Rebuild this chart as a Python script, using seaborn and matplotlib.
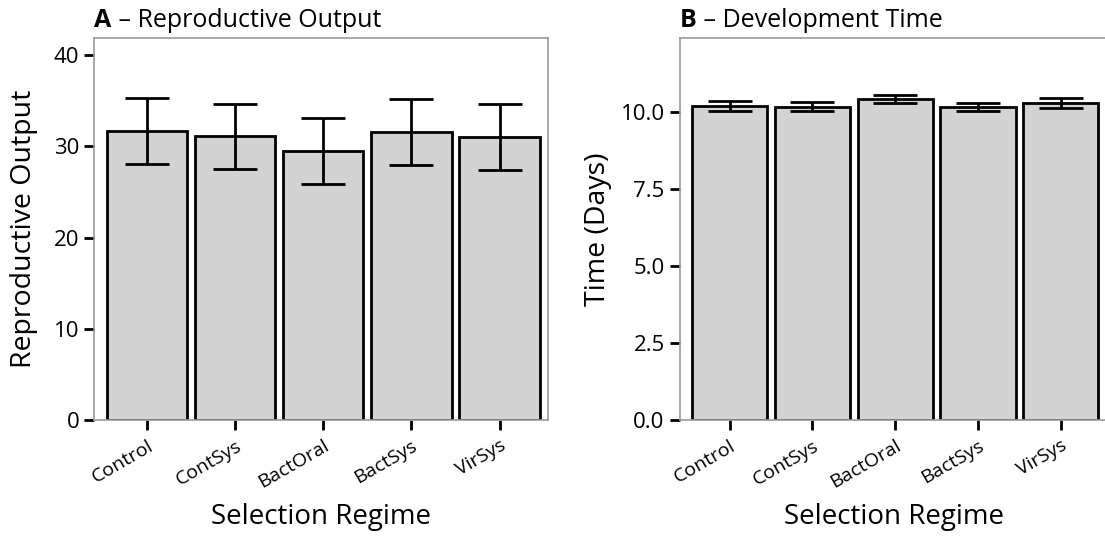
"""Two-panel bar chart: reproductive output and development time by selection regime."""

import matplotlib
matplotlib.use("Agg")
import matplotlib.pyplot as plt
import matplotlib.transforms as mtransforms
import numpy as np
import pandas as pd
import seaborn as sns

# Data
regimes = ["Control", "ContSys", "BactOral", "BactSys", "VirSys"]
repro_mean = [31.7, 31.1, 29.5, 31.6, 31.0]
repro_err = [3.6, 3.6, 3.65, 3.6, 3.6]
devtime_mean = [10.20, 10.17, 10.41, 10.16, 10.28]
devtime_err = [0.16, 0.14, 0.13, 0.14, 0.16]

sns.set_theme(style="white")
plt.rcParams["font.family"] = ["Open Sans", "DejaVu Sans"]
plt.rcParams.update({
    "text.color": "black",
    "axes.labelcolor": "black",
    "xtick.color": "black",
    "ytick.color": "black",
})

BAR_COLOR = "#d3d3d3"
SPINE_COLOR = "#999999"


def draw_panel(fig, ax, means, errs, letter, title, ylabel, ylim, yticks, fmt,
               ylabelpad=6):
    df = pd.DataFrame({"regime": regimes, "value": means})
    sns.barplot(data=df, x="regime", y="value", order=regimes, color=BAR_COLOR,
                saturation=1, width=0.91, errorbar=None, edgecolor="black",
                linewidth=2, ax=ax)
    ax.errorbar(np.arange(len(regimes)), means, yerr=errs, fmt="none",
                ecolor="black", elinewidth=2, capsize=16, capthick=2, zorder=5)

    ax.set_xlim(-0.6, 4.55)
    ax.set_ylim(*ylim)
    ax.set_yticks(yticks)
    ax.set_yticklabels([fmt.format(v) for v in yticks], fontsize=16)
    ax.set_xticks(np.arange(len(regimes)))
    ax.set_xticklabels(regimes, rotation=30, ha="right", rotation_mode="anchor",
                       fontsize=14)
    shift = mtransforms.ScaledTranslation(0.12, 0, fig.dpi_scale_trans)
    for lab in ax.get_xticklabels():
        lab.set_transform(lab.get_transform() + shift)
    ax.tick_params(axis="both", which="both", direction="out", length=7,
                   width=2, color="black", labelcolor="black",
                   bottom=True, left=True)
    ax.tick_params(axis="x", pad=5)
    ax.tick_params(axis="y", pad=4)
    for spine in ax.spines.values():
        spine.set_color(SPINE_COLOR)
        spine.set_linewidth(1.2)

    ax.set_xlabel("Selection Regime", fontsize=20, labelpad=8)
    ax.set_ylabel(ylabel, fontsize=20.5, labelpad=ylabelpad)

    t = ax.text(0, 1.029, letter, transform=ax.transAxes, fontsize=18,
                fontweight="bold", ha="left", va="baseline")
    ax.annotate(" \u2013 " + title, xy=(1, 0), xycoords=t, fontsize=18,
                ha="left", va="bottom")


fig = plt.figure(figsize=(11.05, 5.37), dpi=100)
ax_a = fig.add_axes([0.0855, 0.218, 0.4104, 0.7114])
ax_b = fig.add_axes([0.6154, 0.218, 0.3873, 0.7114])

draw_panel(fig, ax_a, repro_mean, repro_err, "A", "Reproductive Output",
           "Reproductive Output", (0, 41.9), [0, 10, 20, 30, 40], "{:.0f}",
           ylabelpad=11)
draw_panel(fig, ax_b, devtime_mean, devtime_err, "B", "Development Time",
           "Time (Days)", (0, 12.4), [0, 2.5, 5, 7.5, 10], "{:.1f}")
ax_b.set_xlim(-0.6, 4.57)

fig.savefig("out.png", dpi=100)
